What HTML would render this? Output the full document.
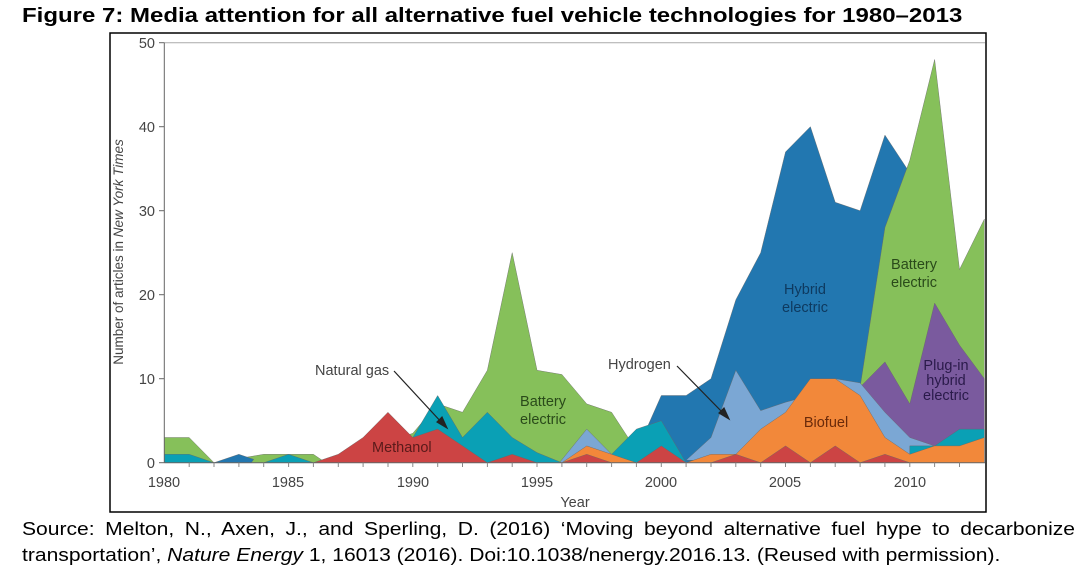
<!DOCTYPE html>
<html><head><meta charset="utf-8"><style>
body{margin:0;background:#fff;width:1092px;height:582px;overflow:hidden;font-family:"Liberation Sans",sans-serif}
.t{position:absolute;left:22px;top:5px;font-weight:bold;font-size:20px;color:#000;white-space:nowrap;transform:scaleX(1.2);transform-origin:0 0}
.s{position:absolute;left:22px;width:900px;font-size:18px;line-height:26px;color:#000;white-space:nowrap;transform:scaleX(1.17);transform-origin:0 0}
.s1{top:516px;text-align:justify;text-align-last:justify}
.s2{top:542px;text-align:left}
</style></head><body>
<div class="t">Figure 7: Media attention for all alternative fuel vehicle technologies for 1980–2013</div>
<svg style="position:absolute;left:0;top:0" width="1092" height="582">
<rect x="110" y="33" width="876" height="479" fill="none" stroke="#000" stroke-width="1.5"/>
<line x1="164" y1="42.7" x2="985" y2="42.7" stroke="#aaa" stroke-width="1"/>
<g transform="translate(164.3,462.7) scale(24.85,-8.4)" stroke="#666" stroke-width="0.4" stroke-linejoin="round">
<polygon vector-effect="non-scaling-stroke" fill="#86c05a" points="0,0 0,3 1,3 2,0 4,1 5,1 6,1 6.5,0 10,3.5 11,7 12,6 13,11 14,25 15,11 16,10.5 17,7 18,6 19.1,1 19.3,0"/>
<polygon vector-effect="non-scaling-stroke" fill="#86c05a" points="21.5,0 22.7,6 23,0"/>
<polygon vector-effect="non-scaling-stroke" fill="#2277b0" points="18.8,0 20,8 21,8 22,10 23,19.4 24,25 25,37 26,40 27,31 28,30 29,39 30,34.5 30.5,0"/>
<polygon vector-effect="non-scaling-stroke" fill="#2277b0" points="2,0 3,1 3.6,0.4 3.5,0"/>
<polygon vector-effect="non-scaling-stroke" fill="#86c05a" points="28,9 29,28 30,36 31,48 32,23 33,29 33,0 28,0"/>
<polygon vector-effect="non-scaling-stroke" fill="#7a5a9e" points="28,9 29,12 30,7 31,19 32,14 33,10 33,0 28,0"/>
<polygon vector-effect="non-scaling-stroke" fill="#7ba7d4" points="15.9,0 17,4 18,1 18.2,0"/>
<polygon vector-effect="non-scaling-stroke" fill="#7ba7d4" points="21,0.3 22,3 23,11 24,6.2 25,7.2 26,8 27,10 28,9.5 29,6 30,3 31,2 31,0"/>
<polygon vector-effect="non-scaling-stroke" fill="#0aa0b5" points="0,0 0,1 1,1 2,0"/>
<polygon vector-effect="non-scaling-stroke" fill="#0aa0b5" points="4,0 5,1 6,0"/>
<polygon vector-effect="non-scaling-stroke" fill="#0aa0b5" points="10,3 11,8 12,3 13,6 14,3 15,1.2 16,0 10,0"/>
<polygon vector-effect="non-scaling-stroke" fill="#0aa0b5" points="18,1 19,4 20,5 21,0 18,0"/>
<polygon vector-effect="non-scaling-stroke" fill="#0aa0b5" points="30,2 31,2 32,4 33,4 33,0 30,0"/>
<polygon vector-effect="non-scaling-stroke" fill="#f2883a" points="11.8,0 12,2 12.8,0"/>
<polygon vector-effect="non-scaling-stroke" fill="#f2883a" points="16,0 17,2 18,1 19,0"/>
<polygon vector-effect="non-scaling-stroke" fill="#f2883a" points="21,0 22,1 23,1 24,4 25,6 26,10 27,10 28,8 29,3 30,1 31,2 32,2 33,3 33,0"/>
<polygon vector-effect="non-scaling-stroke" fill="#cc4444" points="6,0 7,1 8,3 9,6 10,3 11,4 12,2 13,0 14,1 15,0"/>
<polygon vector-effect="non-scaling-stroke" fill="#cc4444" points="16,0 17,1 18,0"/>
<polygon vector-effect="non-scaling-stroke" fill="#cc4444" points="19,0 20,2 21,0"/>
<polygon vector-effect="non-scaling-stroke" fill="#cc4444" points="22,0 23,1 24,0 25,2 26,0 27,2 28,0 29,1 30,0"/>
</g>
<g stroke="#666" stroke-width="1">
<line x1="164.3" y1="42.7" x2="164.3" y2="462.7"/>
<line x1="164.3" y1="462.7" x2="985" y2="462.7"/>
<line x1="159" y1="462.7" x2="164.3" y2="462.7"/><line x1="159" y1="378.7" x2="164.3" y2="378.7"/><line x1="159" y1="294.7" x2="164.3" y2="294.7"/><line x1="159" y1="210.7" x2="164.3" y2="210.7"/><line x1="159" y1="126.7" x2="164.3" y2="126.7"/><line x1="159" y1="42.7" x2="164.3" y2="42.7"/>
</g>
<g font-family="Liberation Sans,sans-serif" font-size="14.5" fill="#444">
<text x="155" y="468" text-anchor="end">0</text><text x="155" y="384" text-anchor="end">10</text><text x="155" y="300" text-anchor="end">20</text><text x="155" y="216" text-anchor="end">30</text><text x="155" y="132" text-anchor="end">40</text><text x="155" y="48" text-anchor="end">50</text>
<text x="164" y="487" text-anchor="middle">1980</text><text x="288" y="487" text-anchor="middle">1985</text><text x="413" y="487" text-anchor="middle">1990</text><text x="537" y="487" text-anchor="middle">1995</text><text x="661" y="487" text-anchor="middle">2000</text><text x="785" y="487" text-anchor="middle">2005</text><text x="910" y="487" text-anchor="middle">2010</text>
<text x="575" y="507" text-anchor="middle">Year</text>
<text transform="translate(123,252) rotate(-90)" text-anchor="middle" font-size="13.5">Number of articles in <tspan font-style="italic">New York Times</tspan></text>
<text x="315" y="375">Natural gas</text>
<text x="608" y="369">Hydrogen</text>
<text x="372" y="452" fill="#5a1a1a">Methanol</text>
<text x="543" y="406" text-anchor="middle" fill="#2a4a1a">Battery</text><text x="543" y="424" text-anchor="middle" fill="#2a4a1a">electric</text>
<text x="805" y="294" text-anchor="middle" fill="#0e3a60">Hybrid</text><text x="805" y="312" text-anchor="middle" fill="#0e3a60">electric</text>
<text x="914" y="269" text-anchor="middle" fill="#2a4a1a">Battery</text><text x="914" y="287" text-anchor="middle" fill="#2a4a1a">electric</text>
<text x="826" y="427" text-anchor="middle" fill="#6a2a0a">Biofuel</text>
<text x="946" y="370" text-anchor="middle" fill="#2a1a4a">Plug-in</text><text x="946" y="385" text-anchor="middle" fill="#2a1a4a">hybrid</text><text x="946" y="400" text-anchor="middle" fill="#2a1a4a">electric</text>
</g>
<g stroke="#222" stroke-width="1.2" fill="#222">
<line x1="394" y1="371" x2="443" y2="424"/><polygon points="447,428 437,422 442,417"/>
<line x1="677" y1="366" x2="725" y2="415"/><polygon points="729,419 719,413 724,408"/>
</g>
<g stroke="#888" stroke-width="1">
<line x1="189.2" y1="462.7" x2="189.2" y2="467"/><line x1="214" y1="462.7" x2="214" y2="467"/><line x1="238.9" y1="462.7" x2="238.9" y2="467"/><line x1="263.7" y1="462.7" x2="263.7" y2="467"/><line x1="288.6" y1="462.7" x2="288.6" y2="467"/>
<line x1="313.4" y1="462.7" x2="313.4" y2="467"/><line x1="338.3" y1="462.7" x2="338.3" y2="467"/><line x1="363.1" y1="462.7" x2="363.1" y2="467"/><line x1="388" y1="462.7" x2="388" y2="467"/><line x1="412.8" y1="462.7" x2="412.8" y2="467"/>
<line x1="437.7" y1="462.7" x2="437.7" y2="467"/><line x1="462.5" y1="462.7" x2="462.5" y2="467"/><line x1="487.4" y1="462.7" x2="487.4" y2="467"/><line x1="512.2" y1="462.7" x2="512.2" y2="467"/><line x1="537" y1="462.7" x2="537" y2="467"/>
<line x1="561.9" y1="462.7" x2="561.9" y2="467"/><line x1="586.7" y1="462.7" x2="586.7" y2="467"/><line x1="611.6" y1="462.7" x2="611.6" y2="467"/><line x1="636.4" y1="462.7" x2="636.4" y2="467"/><line x1="661.3" y1="462.7" x2="661.3" y2="467"/>
<line x1="686.1" y1="462.7" x2="686.1" y2="467"/><line x1="711" y1="462.7" x2="711" y2="467"/><line x1="735.8" y1="462.7" x2="735.8" y2="467"/><line x1="760.7" y1="462.7" x2="760.7" y2="467"/><line x1="785.5" y1="462.7" x2="785.5" y2="467"/>
<line x1="810.4" y1="462.7" x2="810.4" y2="467"/><line x1="835.2" y1="462.7" x2="835.2" y2="467"/><line x1="860.1" y1="462.7" x2="860.1" y2="467"/><line x1="884.9" y1="462.7" x2="884.9" y2="467"/><line x1="909.8" y1="462.7" x2="909.8" y2="467"/>
<line x1="934.6" y1="462.7" x2="934.6" y2="467"/><line x1="959.5" y1="462.7" x2="959.5" y2="467"/>
</g>
</svg>
<div class="s s1">Source: Melton, N., Axen, J., and Sperling, D. (2016) ‘Moving beyond alternative fuel hype to decarbonize</div>
<div class="s s2">transportation’, <i>Nature Energy</i> 1, 16013 (2016). Doi:10.1038/nenergy.2016.13. (Reused with permission).</div>
</body></html>
